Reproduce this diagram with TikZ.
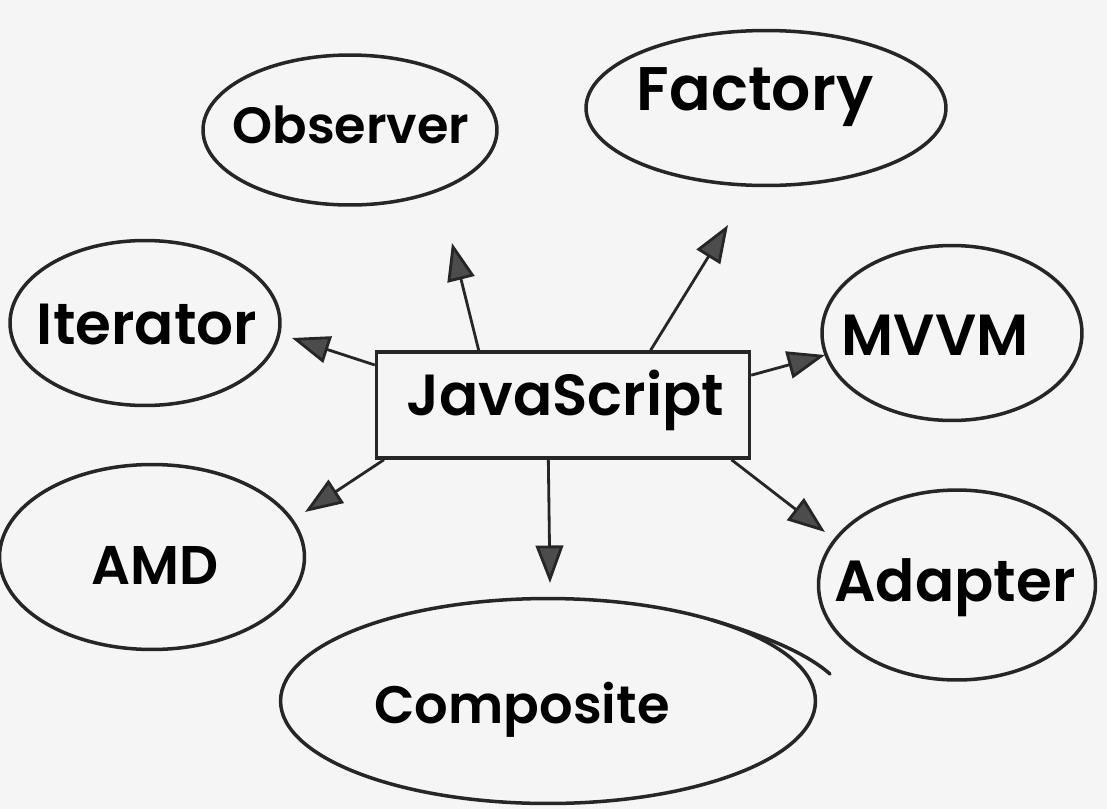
\documentclass[tikz,border=0pt]{standalone}
\usepackage{fontspec}
\setmainfont{Poppins}[BoldFont={Poppins SemiBold}]
\usetikzlibrary{shapes,arrows.meta,calc}

\begin{document}
\begin{tikzpicture}[x=0.02cm,y=-0.02cm,inner sep=0.4mm,
  pat/.style={ellipse,draw=black!85,line width=2pt,inner sep=0pt},
  pname/.style={font=\bfseries\fontsize{#1}{#1}\selectfont},
  arr/.style={draw=black!85,line width=1.6pt,-{Triangle[length=0.75cm,width=0.55cm,fill=black!70]}}]
\fill[black!4] (0,0) rectangle (1107,809);
\useasboundingbox (0,0) rectangle (1107,809);
% the core box
\node (js) at (563,405) [draw=black!85,line width=2pt,minimum width=7.46cm,minimum height=2.12cm] {};
\node (jst) at (565,400) [pname=33] {JavaScript};
% the patterns round it
\node (obs) at (350,130) [pat,minimum width=5.88cm,minimum height=3cm] {};
\node (fac) at (766,108) [pat,minimum width=7.2cm,minimum height=3.1cm] {};
\node (iter) at (145,323) [pat,minimum width=5.4cm,minimum height=3.3cm] {};
\node (mvvm) at (952,333) [pat,minimum width=5.2cm,minimum height=3.5cm] {};
\node (amd) at (152,557) [pat,minimum width=6.1cm,minimum height=3.7cm] {};
\node (adap) at (957,585) [pat,minimum width=5.54cm,minimum height=3.8cm] {};
\node (comp) at (548,701) [pat,minimum width=10.7cm,minimum height=4.1cm] {};
\node (obst) at (351,125) [pname=29] {Observer};
\node (fact) at (755,97) [pname=35] {Factory};
\node (itert) at (147,325) [pname=33] {Iterator};
\node (mvvmt) at (935,335) [pname=33] {MVVM};
\node (amdt) at (155,565) [pname=31] {AMD};
\node (adapt) at (955,588) [pname=33] {Adapter};
\node (compt) at (522,710) [pname=30] {Composite};
% pen running on past the end of the ellipse
\draw[black!85,line width=2pt,line cap=round] (712,620) .. controls (762,635) and (805,652) .. (830,674);
% arrow ends
\coordinate (tobs) at (452,243);
\coordinate (tfac) at (728,225);
\coordinate (titer) at (292,338);
\coordinate (tmvvm) at (825,355);
\coordinate (tamd) at (305,512);
\coordinate (tcomp) at (550,583);
\coordinate (tadap) at (825,532);
\draw[arr] (js.147) -- (tobs);
\draw[arr] (js.32) -- (tfac);
\draw[arr] (js.168) -- (titer);
\draw[arr] (js.9) -- (tmvvm);
\draw[arr] (js.197.5) -- (tamd);
\draw[arr] (js.255.7) -- (tcomp);
\draw[arr] (js.342.8) -- (tadap);
\end{tikzpicture}
\end{document}
